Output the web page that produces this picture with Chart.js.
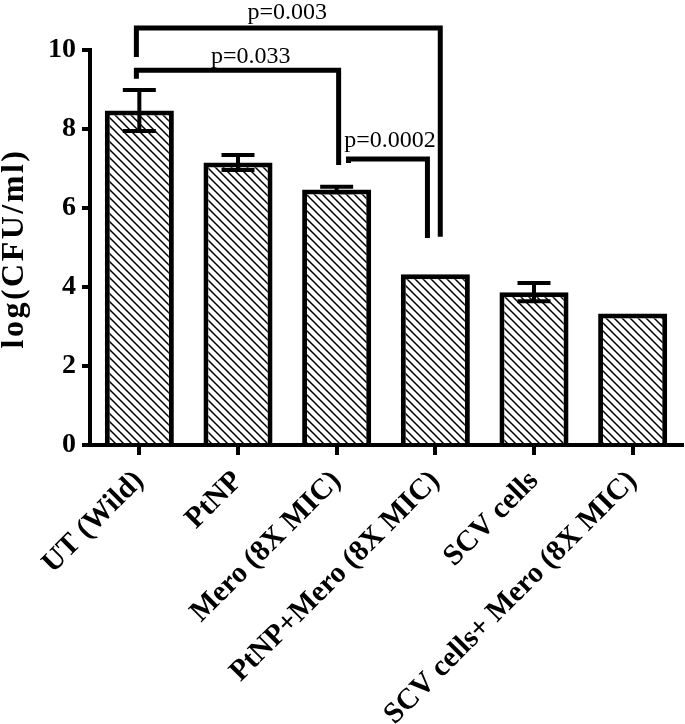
<!DOCTYPE html>
<html><head><meta charset="utf-8">
<script src="https://cdn.jsdelivr.net/npm/chart.js@4.4.0/dist/chart.umd.min.js"></script>
<style>html,body{margin:0;padding:0;background:#fff;}#wrap{width:685px;height:724px;position:relative;}</style>
</head><body><div id="wrap"><canvas id="c"></canvas></div>
<script>
const categories = ['UT (Wild)', 'PtNP', 'Mero (8X MIC)', 'PtNP+Mero (8X MIC)', 'SCV cells', 'SCV cells+ Mero (8X MIC)'];
const meanValues = [8.47, 7.15, 6.47, 4.32, 3.87, 3.33];
const errorValues = [0.52, 0.19, 0.07, 0, 0.23, 0];
const yTicks = [0, 2, 4, 6, 8, 10];
const yTitle = 'log(CFU/ml)';
const bracketLabels = ['p=0.003', 'p=0.033', 'p=0.0002'];
const bracketFrom = [-0.03, -0.03, 2.12];
const bracketTo = [3.05, 2.02, 2.92];
const bracketTop = [10.56, 9.49, 7.24];
const bracketLeftEnd = [9.82, 9.27, 7.14];
const bracketRightEnd = [5.27, 7.09, 5.24];
const labelX = [1.5, 1.13, 2.54];
const labelY = [10.78, 9.67, 7.54];

const SERIF = "'Liberation Serif', 'Times New Roman', serif";
const canvas = document.getElementById('c');
const ctx0 = canvas.getContext('2d');

function hatchPattern() {
  const s = 8;
  const c = document.createElement('canvas');
  c.width = s; c.height = s;
  const g = c.getContext('2d');
  g.fillStyle = '#fff'; g.fillRect(0, 0, s, s);
  g.strokeStyle = '#000'; g.lineWidth = 1.5;
  g.beginPath();
  g.moveTo(-2, -2); g.lineTo(s + 2, s + 2);
  g.moveTo(-2, s - 2); g.lineTo(2, s + 2);
  g.moveTo(s - 2, -2); g.lineTo(s + 2, 2);
  g.stroke();
  return ctx0.createPattern(c, 'repeat');
}

const errorBarPlugin = {
  id: 'errorBars',
  afterDatasetsDraw(chart) {
    const ctx = chart.ctx, y = chart.scales.y;
    const meta = chart.getDatasetMeta(0);
    ctx.save();
    ctx.strokeStyle = '#000'; ctx.lineWidth = 4; ctx.lineCap = 'butt';
    meta.data.forEach((bar, i) => {
      const e = errorValues[i];
      if (!e) return;
      const yt = y.getPixelForValue(meanValues[i] + e);
      const yb = y.getPixelForValue(meanValues[i] - e);
      const hw = 16.5;
      ctx.beginPath();
      ctx.moveTo(bar.x, yt); ctx.lineTo(bar.x, yb);
      ctx.moveTo(bar.x - hw, yt); ctx.lineTo(bar.x + hw, yt);
      ctx.moveTo(bar.x - hw, yb); ctx.lineTo(bar.x + hw, yb);
      ctx.stroke();
    });
    ctx.restore();
  }
};

const bracketPlugin = {
  id: 'brackets',
  afterDraw(chart) {
    const ctx = chart.ctx, x = chart.scales.x, y = chart.scales.y;
    ctx.save();
    ctx.strokeStyle = '#000'; ctx.lineWidth = 5; ctx.lineJoin = 'miter'; ctx.lineCap = 'butt';
    for (let i = 0; i < bracketLabels.length; i++) {
      const xl = x.getPixelForValue(bracketFrom[i]);
      const xr = x.getPixelForValue(bracketTo[i]);
      const yt = y.getPixelForValue(bracketTop[i]);
      ctx.beginPath();
      ctx.moveTo(xl, y.getPixelForValue(bracketLeftEnd[i]));
      ctx.lineTo(xl, yt);
      ctx.lineTo(xr, yt);
      ctx.lineTo(xr, y.getPixelForValue(bracketRightEnd[i]));
      ctx.stroke();
    }
    ctx.fillStyle = '#000';
    ctx.font = '24px ' + SERIF;
    ctx.textAlign = 'center'; ctx.textBaseline = 'alphabetic';
    for (let i = 0; i < bracketLabels.length; i++) {
      ctx.fillText(bracketLabels[i], x.getPixelForValue(labelX[i]), y.getPixelForValue(labelY[i]));
    }
    // y axis title
    const area = chart.chartArea;
    ctx.save();
    ctx.translate(23, (area.top + area.bottom) / 2 + 1);
    ctx.rotate(-Math.PI / 2);
    ctx.font = 'bold 32px ' + SERIF;
    if ('letterSpacing' in ctx) ctx.letterSpacing = '2.5px';
    ctx.textAlign = 'center'; ctx.textBaseline = 'alphabetic';
    ctx.fillText(yTitle, 0, 0);
    ctx.restore();
    ctx.restore();
  }
};

new Chart(canvas, {
  type: 'bar',
  data: {
    labels: categories,
    datasets: [{
      data: meanValues,
      backgroundColor: hatchPattern(),
      borderColor: '#000',
      borderWidth: 5,
      borderSkipped: 'bottom',
      barPercentage: 0.7,
      categoryPercentage: 1.0
    }]
  },
  options: {
    responsive: true,
    maintainAspectRatio: false,
    animation: false,
    devicePixelRatio: 1,
    layout: { padding: { top: 50, right: 3, left: 0, bottom: 0 } },
    plugins: { legend: { display: false }, tooltip: { enabled: false }, title: { display: false } },
    scales: {
      x: {
        type: 'category',
        offset: true,
        grid: { display: true, drawOnChartArea: false, drawTicks: true, tickLength: 10, tickWidth: 4, tickColor: '#000', offset: false, color: '#000', lineWidth: 4 },
        border: { display: true, color: '#000', width: 4 },
        ticks: { color: '#000', font: { family: SERIF, size: 29.5, weight: 'bold' }, maxRotation: 45, minRotation: 45, padding: 9, autoSkip: false },
        afterFit(s) { s.height = 279; }
      },
      y: {
        min: 0, max: 10,
        afterBuildTicks(s) { s.ticks = yTicks.map(v => ({ value: v })); },
        grid: { display: true, drawOnChartArea: false, drawTicks: true, tickLength: 8, tickWidth: 4, tickColor: '#000', color: '#000', lineWidth: 4 },
        border: { display: true, color: '#000', width: 4 },
        ticks: { color: '#000', font: { family: SERIF, size: 28, weight: 'bold' }, padding: 6 },
        title: { display: false },
        afterFit(s) { s.width = 90; }
      }
    }
  },
  plugins: [errorBarPlugin, bracketPlugin]
});
</script>
</body></html>
